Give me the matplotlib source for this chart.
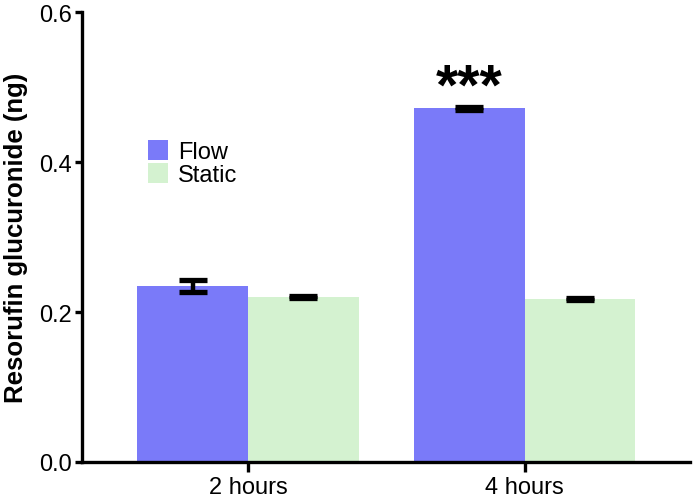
import matplotlib
matplotlib.use("Agg")
import matplotlib.pyplot as plt
import numpy as np

categories = ["2 hours", "4 hours"]
flow_vals = [0.235, 0.472]
flow_err = [0.008, 0.002]
static_vals = [0.2205, 0.2175]
static_err = [0.0015, 0.0015]
series_labels = ["Flow", "Static"]
yticks = [0.0, 0.2, 0.4, 0.6]
ytick_labels = ["0.0", "0.2", "0.4", "0.6"]

plt.rcParams['font.family'] = ['Liberation Sans', 'DejaVu Sans']

fig = plt.figure(figsize=(6.95, 5.02), dpi=100)
ax = fig.add_axes([82/695, 39/502, 608/695, 450/502])

x = np.arange(len(categories))
w = 0.4
flow_c = '#7a7af9'
static_c = '#d4f2d0'
ekw = dict(elinewidth=3.2, capthick=3.8, ecolor='black')
ax.bar(x - w/2, flow_vals, w, color=flow_c, label=series_labels[0], zorder=2)
ax.bar(x + w/2, static_vals, w, color=static_c, label=series_labels[1], zorder=2)
ax.errorbar(x - w/2, flow_vals, yerr=flow_err, fmt='none', capsize=10, zorder=3, **ekw)
ax.errorbar(x + w/2, static_vals, yerr=static_err, fmt='none', capsize=10, zorder=3, **ekw)

ax.text(x[1] - w/2, 0.478, "***", ha='center', va='baseline', fontsize=41,
        fontweight='bold')

ax.set_xlim(-0.6, 1.597)
ax.set_ylim(0, 0.6)
ax.set_xticks(x)
ax.set_xticklabels(categories, fontsize=17)
ax.set_yticks(yticks)
ax.set_yticklabels(ytick_labels, fontsize=17)
ax.set_ylabel("Resorufin glucuronide (ng)", fontsize=18.5, fontweight='bold', labelpad=8)

for s in ['top', 'right']:
    ax.spines[s].set_visible(False)
for s in ['left', 'bottom']:
    ax.spines[s].set_linewidth(2.4)
ax.tick_params(axis='y', length=5, width=2.4, pad=2)
ax.tick_params(axis='x', length=7, width=2.4, pad=3)

leg = ax.legend(loc='upper left', bbox_to_anchor=((148-82)/608, (463-141)/450),
                frameon=False, fontsize=17, borderpad=0, borderaxespad=0,
                handlelength=0.85, handleheight=0.93, handletextpad=0.42,
                labelspacing=0.0)

fig.savefig("out.png", dpi=100)
